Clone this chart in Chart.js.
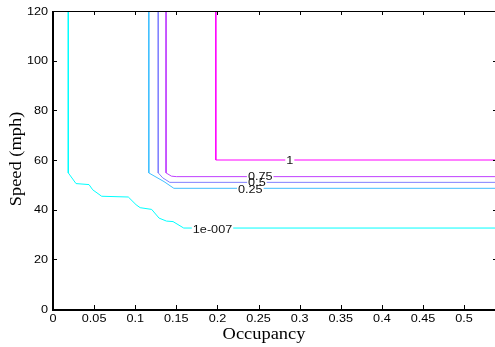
<!DOCTYPE html>
<html>
<head>
<meta charset="utf-8">
<script src="https://cdn.jsdelivr.net/npm/chart.js@4"></script>
<style>
  html, body { margin: 0; padding: 0; background: #fff; overflow: hidden; }
  #wrap { width: 497px; height: 347px; }
</style>
</head>
<body>
<div id="wrap"><canvas id="chart"></canvas></div>
<script>
// contour levels and their colours (cool colormap)
const levels = ["1e-007", "0.25", "0.5", "0.75", "1"];
const levelColors = ["rgb(0,255,255)", "rgb(64,191,255)", "rgb(128,128,255)", "rgb(191,64,255)", "rgb(255,0,255)"];

// occupancy / speed points of each contour line
const occ1e7 = [0.0186, 0.0186, 0.028, 0.0438, 0.0483, 0.0592, 0.0916, 0.101, 0.106, 0.120, 0.129, 0.138, 0.146, 0.159, 0.54];
const spd1e7 = [120, 54.8, 50.5, 50.1, 48.0, 45.4, 45.1, 42.0, 40.8, 40.1, 36.6, 35.4, 35.2, 32.6, 32.6];
const occ025 = [0.1165, 0.1165, 0.135, 0.147, 0.54];
const spd025 = [120, 54.8, 51.3, 48.6, 48.6];
const occ05 = [0.128, 0.128, 0.1335, 0.142, 0.54];
const spd05 = [120, 54.8, 52.8, 51.0, 51.0];
const occ075 = [0.1375, 0.1375, 0.144, 0.15, 0.54];
const spd075 = [120, 54.8, 53.5, 53.3, 53.3];
const occ1 = [0.198, 0.198, 0.54];
const spd1 = [120, 60, 60];

// where the level labels sit (data coords)
const labelOcc = [0.194, 0.240, 0.248, 0.252, 0.288];
const labelSpd = [32.3, 48.4, 51.3, 53.6, 59.9];

const xTicks = [0, 0.05, 0.1, 0.15, 0.2, 0.25, 0.3, 0.35, 0.4, 0.45, 0.5];
const xTickLabels = ["0", "0.05", "0.1", "0.15", "0.2", "0.25", "0.3", "0.35", "0.4", "0.45", "0.5"];
const yTicks = [0, 20, 40, 60, 80, 100, 120];
const yTickLabels = ["0", "20", "40", "60", "80", "100", "120"];

const lineOcc = [occ1e7, occ025, occ05, occ075, occ1];
const lineSpd = [spd1e7, spd025, spd05, spd075, spd1];

function toPoints(xs, ys) {
  return xs.map((x, i) => ({ x: x, y: ys[i] }));
}

// the picture is a bit stretched sideways, so text is too
const stretch = 1.15;

function wideText(ctx, txt, x, y) {
  ctx.save();
  ctx.translate(x, y);
  ctx.scale(stretch, 1);
  ctx.fillText(txt, 0, 0);
  ctx.restore();
}

// draws the box, inward ticks, tick labels, axis titles and contour labels
const matlabAxes = {
  id: "matlabAxes",
  afterDatasetsDraw(chart) {
    const ctx = chart.ctx;
    const a = chart.chartArea;
    const xs = chart.scales.x;
    const ys = chart.scales.y;
    ctx.save();

    // contour labels: clear a gap in the line, then write the text
    ctx.font = "11px 'Liberation Sans', Arial, sans-serif";
    ctx.textAlign = "center";
    ctx.textBaseline = "middle";
    const pos = labelOcc.map((o, i) => [xs.getPixelForValue(o), ys.getPixelForValue(labelSpd[i])]);
    ctx.fillStyle = "#fff";
    pos.forEach((p, i) => {
      const w = ctx.measureText(levels[i]).width * stretch;
      ctx.fillRect(p[0] - w / 2 - 1, p[1] - 3, w + 2, 6);
    });
    ctx.fillStyle = "#111";
    [1, 2, 3, 0, 4].forEach((i) => {
      wideText(ctx, levels[i], pos[i][0], pos[i][1] + 1);
    });

    // box (right edge falls just outside the picture)
    ctx.strokeStyle = "#000";
    ctx.lineWidth = 1;
    ctx.beginPath();
    ctx.moveTo(a.left, a.top + 0.5);
    ctx.lineTo(a.right, a.top + 0.5);
    ctx.stroke();
    ctx.lineWidth = 2;
    ctx.beginPath();
    ctx.moveTo(a.left, a.top);
    ctx.lineTo(a.left, a.bottom + 1);
    ctx.lineTo(a.right, a.bottom + 1);
    ctx.stroke();

    // inward ticks
    ctx.lineWidth = 1;
    ctx.beginPath();
    xTicks.forEach((v) => {
      const px = Math.round(xs.getPixelForValue(v)) + 0.5;
      ctx.moveTo(px, a.bottom);
      ctx.lineTo(px, a.bottom - 4);
      ctx.moveTo(px, a.top);
      ctx.lineTo(px, a.top + 4);
    });
    yTicks.forEach((v) => {
      const py = Math.round(ys.getPixelForValue(v)) + 0.5;
      ctx.moveTo(a.left, py);
      ctx.lineTo(a.left + 4, py);
      ctx.moveTo(a.right, py);
      ctx.lineTo(a.right - 4, py);
    });
    ctx.stroke();

    // tick labels
    ctx.fillStyle = "#000";
    ctx.font = "11px 'Liberation Sans', Arial, sans-serif";
    ctx.textAlign = "center";
    ctx.textBaseline = "middle";
    xTicks.forEach((v, i) => {
      wideText(ctx, xTickLabels[i], xs.getPixelForValue(v), a.bottom + 10);
    });
    ctx.textAlign = "right";
    yTicks.forEach((v, i) => {
      wideText(ctx, yTickLabels[i], a.left - 5, ys.getPixelForValue(v) + 0.5);
    });

    // axis titles
    ctx.font = "16px 'Liberation Serif', 'Times New Roman', serif";
    ctx.textAlign = "center";
    wideText(ctx, "Occupancy", 264, 335);
    ctx.translate(17, 159);
    ctx.rotate(-Math.PI / 2);
    ctx.scale(stretch, 1);
    ctx.fillText("Speed (mph)", 0, 0);
    ctx.restore();
  },
};

const chart = new Chart(document.querySelector("#chart"), {
  type: "scatter",
  data: {
    datasets: levels.map((lvl, i) => ({
      label: lvl,
      data: toPoints(lineOcc[i], lineSpd[i]),
      showLine: true,
      borderColor: levelColors[i],
      backgroundColor: levelColors[i],
      borderWidth: 1,
      pointRadius: 0,
      tension: 0,
    })),
  },
  options: {
    responsive: true,
    maintainAspectRatio: false,
    animation: false,
    devicePixelRatio: 1,
    layout: { padding: { top: 11, right: 0, left: 0, bottom: 0 } },
    plugins: {
      legend: { display: false },
      tooltip: { enabled: false },
    },
    scales: {
      x: {
        type: "linear",
        min: 0,
        max: 0.54,
        grid: { display: false, drawTicks: false },
        border: { display: false },
        ticks: { display: false, stepSize: 0.05, includeBounds: false },
        afterFit: (scale) => { scale.height = 38; },
      },
      y: {
        type: "linear",
        min: 0,
        max: 120,
        grid: { display: false, drawTicks: false },
        border: { display: false },
        ticks: { display: false, stepSize: 20 },
        afterFit: (scale) => { scale.width = 53; },
      },
    },
  },
  plugins: [matlabAxes],
});
</script>
</body>
</html>
